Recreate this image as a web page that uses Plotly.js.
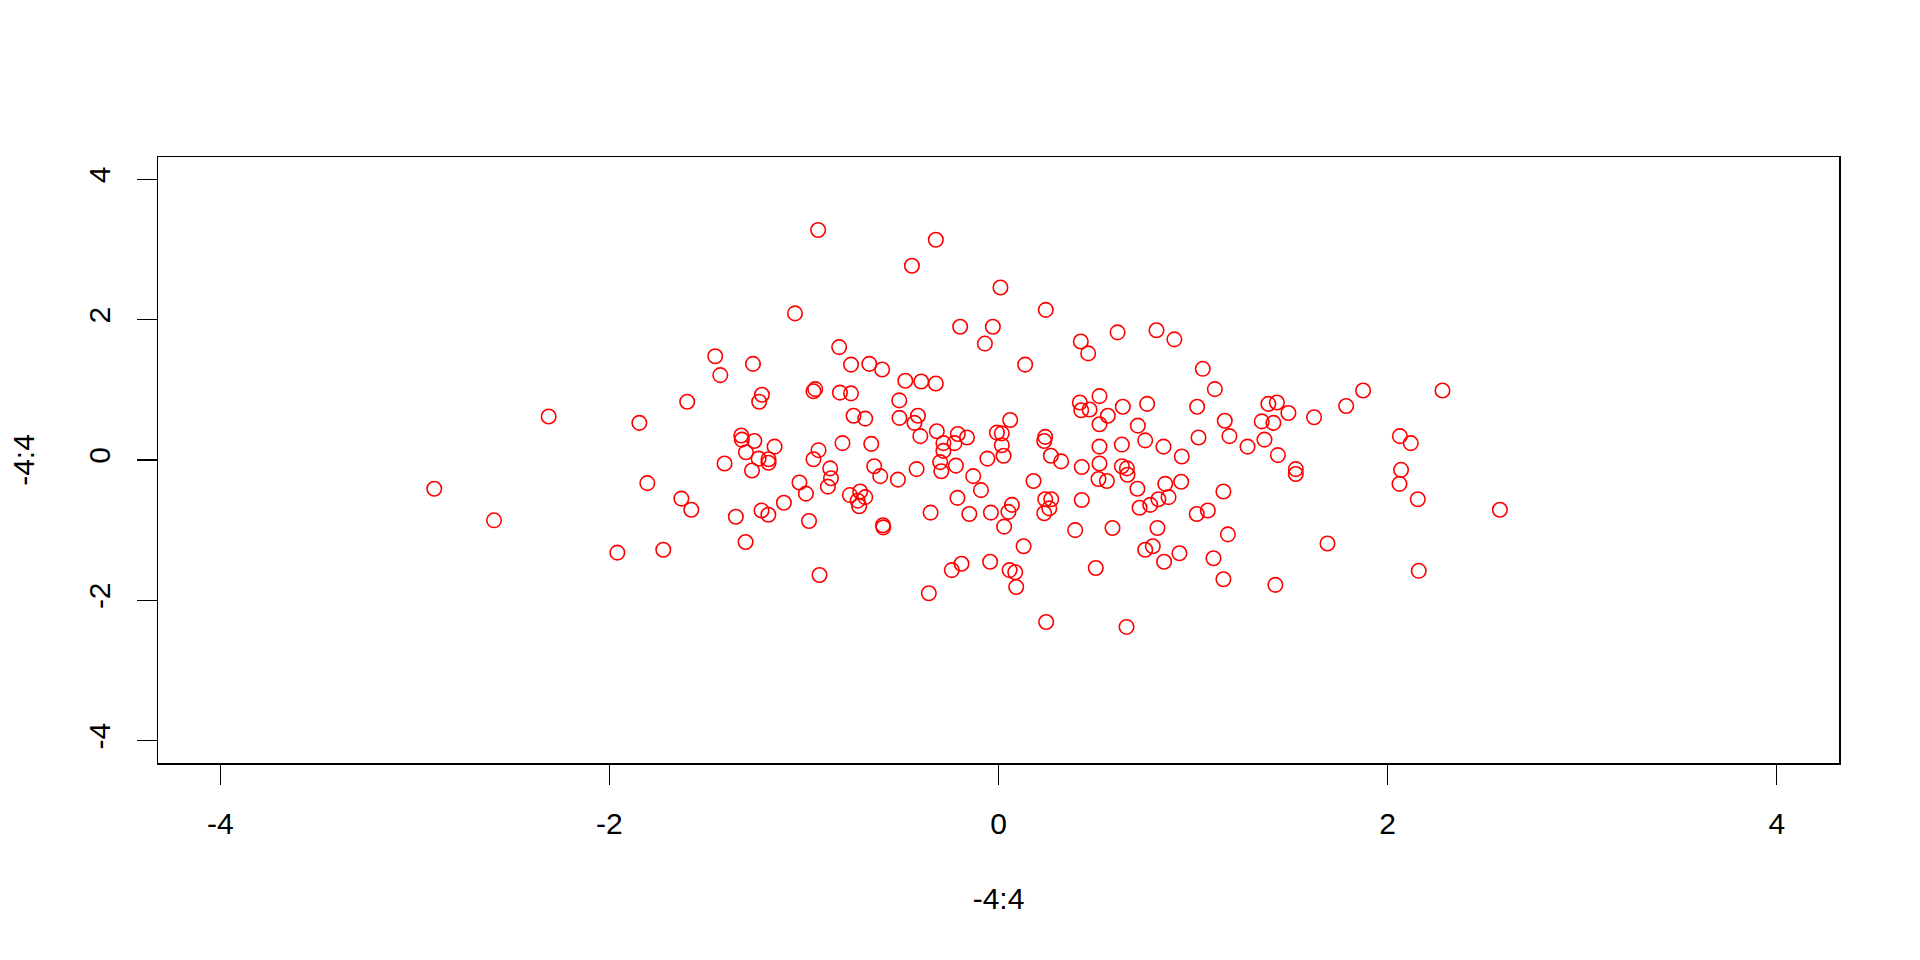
<!DOCTYPE html>
<html>
<head>
<meta charset="utf-8">
<script src="https://cdn.plot.ly/plotly-3.0.1.min.js"></script>
<style>html,body{margin:0;padding:0;background:#fff;}#chart{width:1920px;height:960px;}</style>
</head>
<body>
<div id="chart"></div>
<script>
const xVals = [-2.312,-1.846,-1.60,-0.927,-0.322,-0.445,-1.046,-0.197,-0.819,-1.456,
-1.430,-1.262,-0.758,-0.664,-0.598,-0.479,-0.397,-0.322,-1.216,-1.230,
-0.951,-0.942,-0.815,-0.758,-0.510,-0.745,-0.685,-0.509,-0.414,-0.432,
-0.317,-0.209,0.010,0.243,-0.029,-0.070,0.137,0.423,0.461,0.612,
0.812,0.904,1.050,1.112,1.021,1.163,1.353,1.413,0.418,0.425,
0.468,0.519,0.639,0.764,0.562,0.519,0.716,0.060,-0.008,0.017,
1.387,1.431,1.490,1.622,1.787,1.874,2.282,-2.900,-2.593,-1.805,
-1.63,-1.579,-1.959,-1.723,-1.322,-1.319,-1.255,-1.151,-1.298,-1.408,
-1.267,-1.233,-1.182,-1.182,-0.925,-0.951,-0.802,-0.654,-0.865,-0.861,
-0.877,-1.023,-0.990,-1.103,-1.350,-1.218,-1.183,-0.974,-1.300,-0.920,
-0.639,-0.608,-0.517,-0.764,-0.711,-0.685,-0.724,-0.716,-0.594,-0.592,
-0.421,-0.349,-0.402,-0.283,-0.226,-0.162,-0.283,-0.300,-0.294,-0.219,
-0.13,-0.211,-0.15,-0.240,-0.190,-0.358,0.240,0.235,0.017,0.026,
-0.057,-0.090,-0.039,0.069,0.051,0.029,0.180,0.269,0.322,0.240,
0.271,0.261,0.235,0.129,-0.043,0.057,0.086,0.091,0.245,0.428,
0.519,0.519,0.514,0.557,0.634,0.754,0.848,0.942,1.028,1.187,
1.280,0.634,0.660,0.663,0.714,0.428,0.394,0.586,0.725,0.780,
0.822,0.874,0.857,0.939,0.817,0.754,0.793,0.851,0.930,0.500,
0.658,1.156,1.019,1.076,1.179,1.105,1.156,1.367,1.436,1.528,
1.528,2.063,2.119,2.069,2.061,2.155,2.577,1.691,1.423,2.160];

const yVals = [0.62,0.53,0.83,3.28,3.14,2.77,2.09,1.90,1.61,1.48,
1.21,1.37,1.36,1.37,1.29,1.13,1.12,1.09,0.93,0.83,
0.98,1.01,0.96,0.95,0.85,0.63,0.59,0.60,0.63,0.53,
0.41,0.37,2.46,2.14,1.90,1.66,1.36,1.69,1.52,1.82,
1.85,1.72,1.30,1.01,0.76,0.56,0.55,0.53,0.82,0.71,
0.72,0.91,0.76,0.80,0.63,0.51,0.49,0.57,0.39,0.38,
0.80,0.82,0.67,0.61,0.77,0.99,0.99,-0.41,-0.86,-0.33,
-0.55,-0.71,-1.32,-1.28,0.35,0.29,0.27,0.19,0.11,-0.05,
-0.15,0.02,0.01,-0.04,0.14,0.01,0.24,0.23,-0.12,-0.26,
-0.38,-0.32,-0.48,-0.61,-0.81,-0.72,-0.78,-0.87,-1.17,-1.64,
-0.09,-0.23,-0.28,-0.50,-0.45,-0.53,-0.58,-0.66,-0.93,-0.96,
-0.13,-0.75,0.34,0.24,0.24,0.32,0.13,-0.03,-0.16,-0.08,
-0.23,-0.54,-0.77,-1.57,-1.48,-1.90,0.33,0.27,0.21,0.06,
0.02,-0.43,-0.75,-0.64,-0.74,-0.95,-0.30,0.06,-0.02,-0.56,
-0.56,-0.69,-0.76,-1.23,-1.45,-1.57,-1.60,-1.81,-2.31,-0.10,
0.19,-0.05,-0.27,-0.30,0.22,0.28,0.19,0.05,0.32,0.34,
0.19,-0.09,-0.12,-0.21,-0.41,-0.57,-1.00,-0.97,-0.68,-0.64,
-0.56,-0.53,-0.34,-0.31,-0.97,-1.28,-1.23,-1.45,-1.33,-1.54,
-2.38,-0.45,-0.77,-0.72,-1.06,-1.40,-1.70,0.29,0.07,-0.13,
-0.20,0.34,0.24,-0.14,-0.34,-0.56,-0.71,-1.19,-1.78,-1.58];

const tickVals = [-4, -2, 0, 2, 4];
const tickText = ['-4', '-2', '0', '2', '4'];
const xLabel = '-4:4';
const yLabel = '-4:4';

const fontFam = 'Liberation Sans, Arial, sans-serif';
const fontSize = 30;

const trace = {
  x: xVals, y: yVals,
  type: 'scatter', mode: 'markers',
  marker: {symbol: 'circle-open', size: 14.5, color: '#FF0000', line: {color: '#FF0000', width: 1.6}},
  hoverinfo: 'x+y'
};

const axisCommon = {
  range: [-4.32, 4.32],
  tickvals: tickVals, ticktext: tickText,
  showgrid: false, zeroline: false,
  showline: true, mirror: true, linecolor: '#000', linewidth: 1.5,
  ticks: 'outside', ticklen: 20, tickwidth: 1.5, tickcolor: '#000',
  tickfont: {family: fontFam, size: fontSize, color: '#000'},
  automargin: false
};

const layout = {
  width: 1920, height: 960,
  paper_bgcolor: '#fff', plot_bgcolor: '#fff',
  showlegend: false,
  margin: {l: 158, r: 81, t: 157, b: 197, pad: 0},
  font: {family: fontFam, size: fontSize, color: '#000'},
  xaxis: Object.assign({}, axisCommon, {
    title: {text: xLabel, font: {family: fontFam, size: fontSize, color: '#000'}, standoff: 49},
    ticklabelstandoff: 13
  }),
  yaxis: Object.assign({}, axisCommon, {
    tickangle: -90,
    title: {text: yLabel, font: {family: fontFam, size: fontSize, color: '#000'}, standoff: 39},
    ticklabelstandoff: 15
  })
};

Plotly.newPlot('chart', [trace], layout, {displayModeBar: false, staticPlot: true});
</script>
</body>
</html>
